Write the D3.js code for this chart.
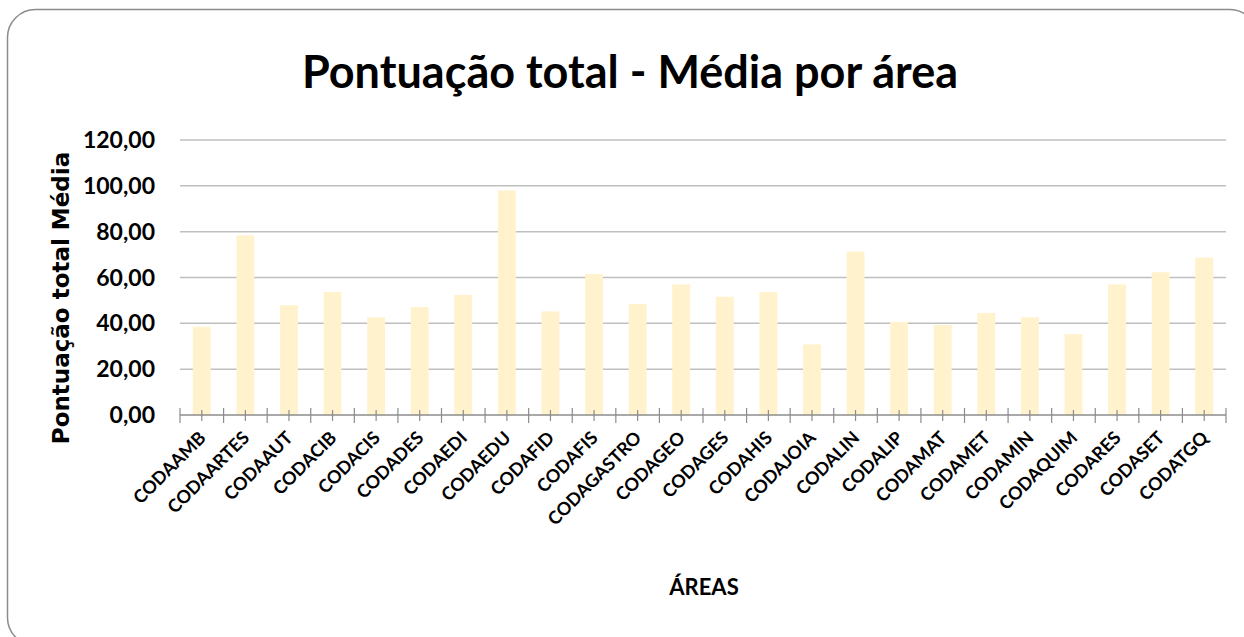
<html>
<head>
<script src="https://d3js.org/d3.v7.min.js"></script>
<style>
    body { margin: 0; background: #ffffff; }
    svg { display: block; }
    .frame { fill: #ffffff; stroke: #8c8c8c; stroke-width: 1.5px; }
    .grid line { stroke: #bfbfbf; stroke-width: 1.5px; }
    .bar { fill: #fff2cc; }
    .axis-line { stroke: #8c8c8c; stroke-width: 1.5px; }
    .tick-mark { stroke: #8c8c8c; stroke-width: 1.2px; }
    .title { font-family: Lato, "Open Sans", sans-serif; font-weight: bold; font-size: 45px; fill: #000; }
    .ylab { font-family: Lato, sans-serif; font-weight: bold; font-size: 23px; fill: #000; }
    .xlab { font-family: Lato, sans-serif; font-weight: bold; font-size: 18px; fill: #000; }
    .ytitle { font-family: "DejaVu Sans", sans-serif; font-weight: bold; font-size: 23px; fill: #000; }
    .xtitle { font-family: Lato, sans-serif; font-weight: bold; font-size: 22px; fill: #000; }
</style>
</head>
<body>

<svg id="the-chart" width="1244" height="637"></svg>

<script>
    var areas = ['CODAAMB', 'CODAARTES', 'CODAAUT', 'CODACIB', 'CODACIS', 'CODADES',
        'CODAEDI', 'CODAEDU', 'CODAFID', 'CODAFIS', 'CODAGASTRO', 'CODAGEO',
        'CODAGES', 'CODAHIS', 'CODAJOIA', 'CODALIN', 'CODALIP', 'CODAMAT',
        'CODAMET', 'CODAMIN', 'CODAQUIM', 'CODARES', 'CODASET', 'CODATGQ'];
    var medias = [38.5, 78.4, 47.9, 53.7, 42.6, 47.1,
        52.4, 98.0, 45.2, 61.5, 48.4, 57.0,
        51.6, 53.7, 30.8, 71.3, 40.6, 39.3,
        44.5, 42.6, 35.3, 57.0, 62.3, 68.7];
    var yTicks = [0, 20, 40, 60, 80, 100, 120];

    var svg = d3.select('#the-chart');

    // chart frame (rounded, runs off the right and bottom edges)
    svg.append('rect')
        .attr('class', 'frame')
        .attr('x', 7.5).attr('y', 9.5)
        .attr('width', 1250).attr('height', 636)
        .attr('rx', 28).attr('ry', 28);

    var plotLeft = 180, plotRight = 1226, plotTop = 140, plotBottom = 415;

    var x = d3.scaleBand()
        .domain(areas)
        .range([plotLeft, plotRight])
        .paddingInner(0.59)
        .paddingOuter(0.295);

    var xOuter = d3.scaleBand().domain(areas).range([plotLeft, plotRight]);

    var y = d3.scaleLinear()
        .domain([0, 120])
        .range([plotBottom, plotTop]);

    var fmt = function(d) { return d3.format('.2f')(d).replace('.', ','); };

    // gridlines
    svg.append('g')
        .attr('class', 'grid')
        .selectAll('line')
        .data(yTicks.filter(function(d) { return d > 0; }))
        .enter().append('line')
        .attr('x1', plotLeft).attr('x2', plotRight)
        .attr('y1', function(d) { return y(d); })
        .attr('y2', function(d) { return y(d); });

    // y labels
    svg.append('g')
        .selectAll('text')
        .data(yTicks)
        .enter().append('text')
        .attr('class', 'ylab')
        .attr('x', 155)
        .attr('y', function(d) { return y(d) + 8; })
        .attr('text-anchor', 'end')
        .text(fmt);

    // bars
    svg.append('g')
        .selectAll('rect')
        .data(areas)
        .enter().append('rect')
        .attr('class', 'bar')
        .attr('x', function(d) { return x(d); })
        .attr('width', x.bandwidth())
        .attr('y', function(d, i) { return y(medias[i]); })
        .attr('height', function(d, i) { return y(0) - y(medias[i]); });

    // x axis line + ticks
    svg.append('line')
        .attr('class', 'axis-line')
        .attr('x1', plotLeft).attr('x2', plotRight)
        .attr('y1', plotBottom).attr('y2', plotBottom);

    var bounds = areas.map(function(d) { return xOuter(d); }).concat([plotRight]);
    svg.append('g')
        .selectAll('line')
        .data(bounds)
        .enter().append('line')
        .attr('class', 'tick-mark')
        .attr('x1', function(d) { return d; }).attr('x2', function(d) { return d; })
        .attr('y1', plotBottom - 7).attr('y2', plotBottom + 8);

    svg.append('g')
        .selectAll('line')
        .data(areas)
        .enter().append('line')
        .attr('class', 'tick-mark')
        .attr('x1', function(d) { return xOuter(d) + xOuter.bandwidth() / 2; })
        .attr('x2', function(d) { return xOuter(d) + xOuter.bandwidth() / 2; })
        .attr('y1', plotBottom - 5).attr('y2', plotBottom + 6);

    // x labels, rotated
    svg.append('g')
        .selectAll('text')
        .data(areas)
        .enter().append('text')
        .attr('class', 'xlab')
        .attr('text-anchor', 'end')
        .attr('transform', function(d) {
            var cx = xOuter(d) + xOuter.bandwidth() / 2 + 5;
            return 'translate(' + cx + ',' + (plotBottom + 24) + ') rotate(-45)';
        })
        .text(function(d) { return d; });

    // titles
    svg.append('text')
        .attr('class', 'title')
        .attr('x', 630).attr('y', 88)
        .attr('text-anchor', 'middle')
        .text('Pontuação total - Média por área');

    svg.append('text')
        .attr('class', 'ytitle')
        .attr('transform', 'translate(69,298) rotate(-90)')
        .attr('text-anchor', 'middle')
        .text('Pontuação total Média');

    svg.append('text')
        .attr('class', 'xtitle')
        .attr('x', 704).attr('y', 595)
        .attr('text-anchor', 'middle')
        .text('ÁREAS');
</script>

</body>
</html>
